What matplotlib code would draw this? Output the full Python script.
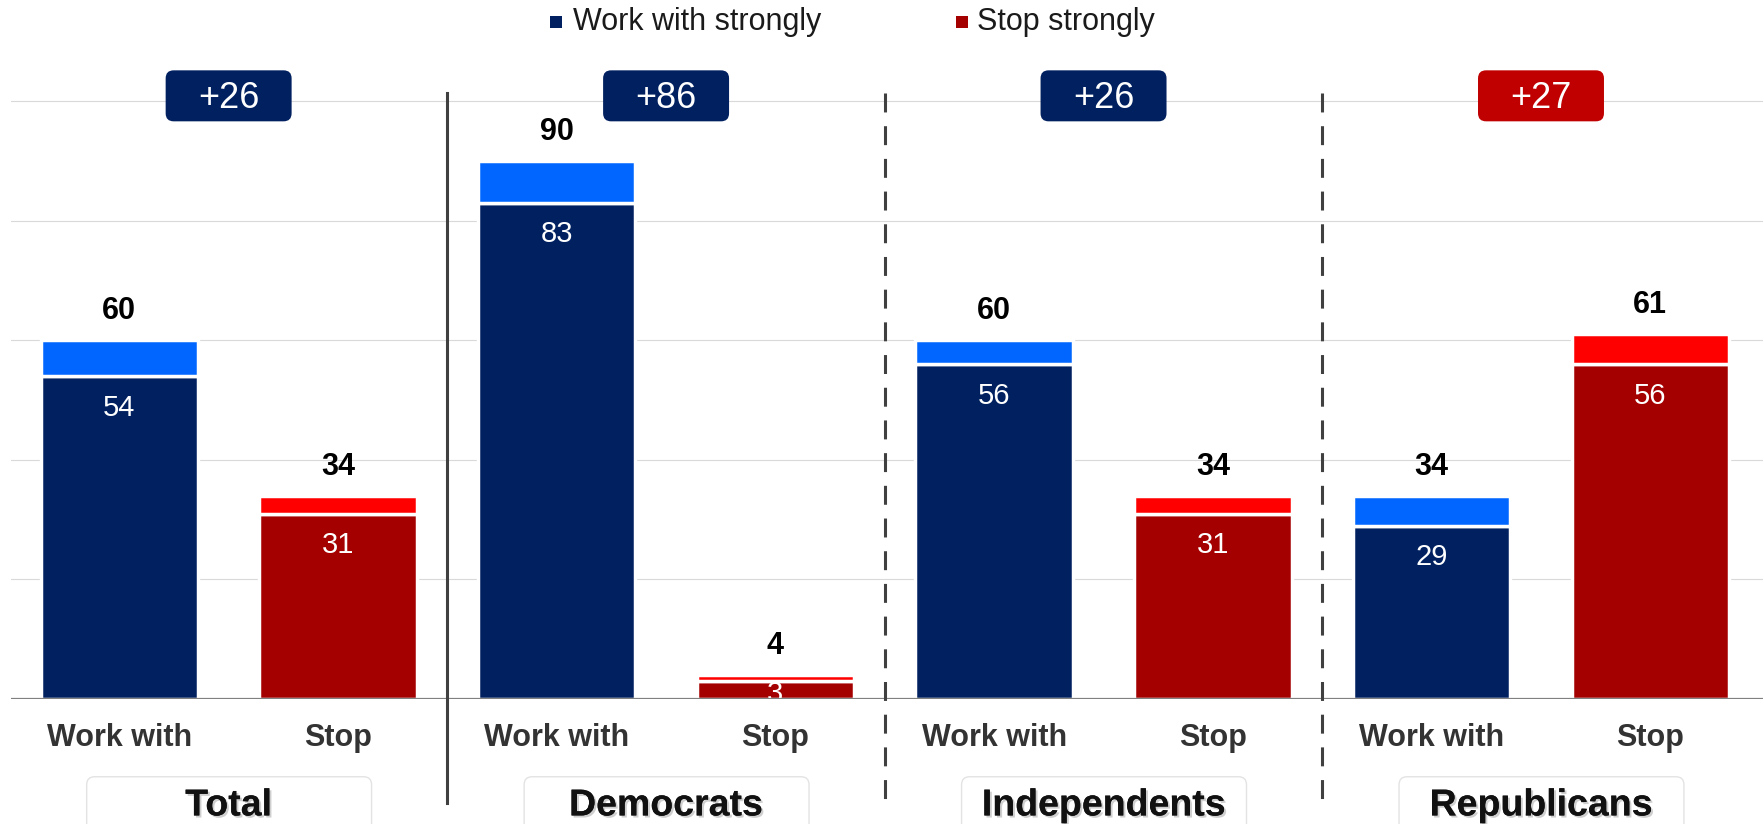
import matplotlib.pyplot as plt
import matplotlib.patheffects as pe
from matplotlib.patches import FancyBboxPatch, Rectangle

plt.rcParams['font.family'] = ['Liberation Sans', 'DejaVu Sans']

groups = ['Total', 'Democrats', 'Independents', 'Republicans']
categories = ['Work with', 'Stop']
work_total = [60, 90, 60, 34]
work_strong = [54, 83, 56, 29]
stop_total = [34, 4, 34, 61]
stop_strong = [31, 3, 31, 56]

NAVY, BLUE = '#002060', '#0066ff'
DRED, RED = '#a50000', '#ff0000'
BADGE_RED = '#c00000'

W, H = 1763, 824
fig = plt.figure(figsize=(W / 100, H / 100), dpi=100)
# axes: baseline at y=699px, 5.98 px per unit
ax = fig.add_axes([11 / W, (H - 699) / H, (W - 11) / W, 105 * 5.98 / H])
ax.set_xlim(-0.495, 7.515)
ax.set_ylim(0, 105)
for s in ax.spines.values():
    s.set_visible(False)
ax.set_xticks([])
ax.set_yticks([20, 40, 60, 80, 100])
ax.tick_params(left=False, labelleft=False)
ax.yaxis.grid(True, color='#d9d9d9', lw=0.8)
ax.set_axisbelow(True)

xs_work = [2 * i for i in range(len(groups))]
xs_stop = [2 * i + 1 for i in range(len(groups))]
bw = 0.72
work_weak = [t - s for t, s in zip(work_total, work_strong)]
stop_weak = [t - s for t, s in zip(stop_total, stop_strong)]

ax.bar(xs_work, work_strong, width=bw, color=NAVY, edgecolor='white', lw=2.5, zorder=2)
ax.bar(xs_work, work_weak, bottom=work_strong, width=bw, color=BLUE, edgecolor='white', lw=2.5, zorder=2)
ax.bar(xs_stop, stop_strong, width=bw, color=DRED, edgecolor='white', lw=2.5, zorder=2)
ax.bar(xs_stop, stop_weak, bottom=stop_strong, width=bw, color=RED, edgecolor='white', lw=2.5, zorder=2)

ax.axhline(0, color='#808080', lw=1.6, zorder=5)

# value labels
for xs, tot, strong in [(xs_work, work_total, work_strong), (xs_stop, stop_total, stop_strong)]:
    for x, t, s in zip(xs, tot, strong):
        ax.annotate(str(t), (x, t), xytext=(0, 15), textcoords='offset points',
                    ha='center', va='baseline', fontsize=22, fontweight='bold',
                    color='black', annotation_clip=False)
        off = -28.5 if s > 8 else -15
        txt = ax.annotate(str(s), (x, s), xytext=(0, off), textcoords='offset points',
                          ha='center', va='baseline', fontsize=21, color='white', zorder=4)
        txt.set_clip_on(True)

# category labels, group boxes, badges
px_x = 1 / 218.8
px_y = 1 / 5.98
aspect = px_y / px_x
for i, g in enumerate(groups):
    cx = 2 * i + 0.5
    for j, c in enumerate(categories):
        ax.text(2 * i + j, -6.5, c, ha='center', va='center', fontsize=22,
                fontweight='bold', color='#333333', clip_on=False)
    box = FancyBboxPatch((cx - 142 * px_x, -30), 285 * px_x, 30 - 13.0,
                         boxstyle='round,pad=0,rounding_size=%f' % (8 * px_x),
                         mutation_aspect=aspect, fc='white', ec='#e3e3e3', lw=1,
                         clip_on=False, zorder=3)
    ax.add_patch(box)
    ax.text(cx, -17.8, g, ha='center', va='center', fontsize=27, fontweight='bold',
            color='#111111', clip_on=False, zorder=4,
            path_effects=[pe.withSimplePatchShadow(offset=(1.5, -1.5), shadow_rgbFace='#777777', alpha=0.35),
                          pe.Normal()])
    diff = work_total[i] - stop_total[i]
    bcol = NAVY if diff > 0 else BADGE_RED
    badge = FancyBboxPatch((cx - 63 * px_x, 96.6), 126 * px_x, 51 * px_y,
                           boxstyle='round,pad=0,rounding_size=%f' % (8 * px_x),
                           mutation_aspect=aspect, fc=bcol, ec='none',
                           clip_on=False, zorder=6)
    ax.add_patch(badge)
    ax.text(cx, 100.5, '+%d' % abs(diff), ha='center', va='center', fontsize=26,
            color='white', clip_on=False, zorder=7)

# separators
ax.plot([1.5, 1.5], [101.3, -17.4], color='#404040', lw=2.2, clip_on=False, zorder=6)
for xv in [3.5, 5.5]:
    ax.plot([xv, xv], [101.3, -16.8], color='#404040', lw=2.2, clip_on=False, zorder=6,
            linestyle=(0, (6.2, 4.5)))

# legend
fig.patches.append(Rectangle((550 / W, 1 - 28 / H), 12 / W, 12 / H, transform=fig.transFigure,
                             fc=NAVY, ec='none'))
fig.text(573 / W, 1 - 22 / H, 'Work with strongly', fontsize=22, color='#1a1a1a', va='center')
fig.patches.append(Rectangle((956 / W, 1 - 28 / H), 12 / W, 12 / H, transform=fig.transFigure,
                             fc=DRED, ec='none'))
fig.text(977 / W, 1 - 22 / H, 'Stop strongly', fontsize=22, color='#1a1a1a', va='center')

fig.savefig('out.png', dpi=100)
